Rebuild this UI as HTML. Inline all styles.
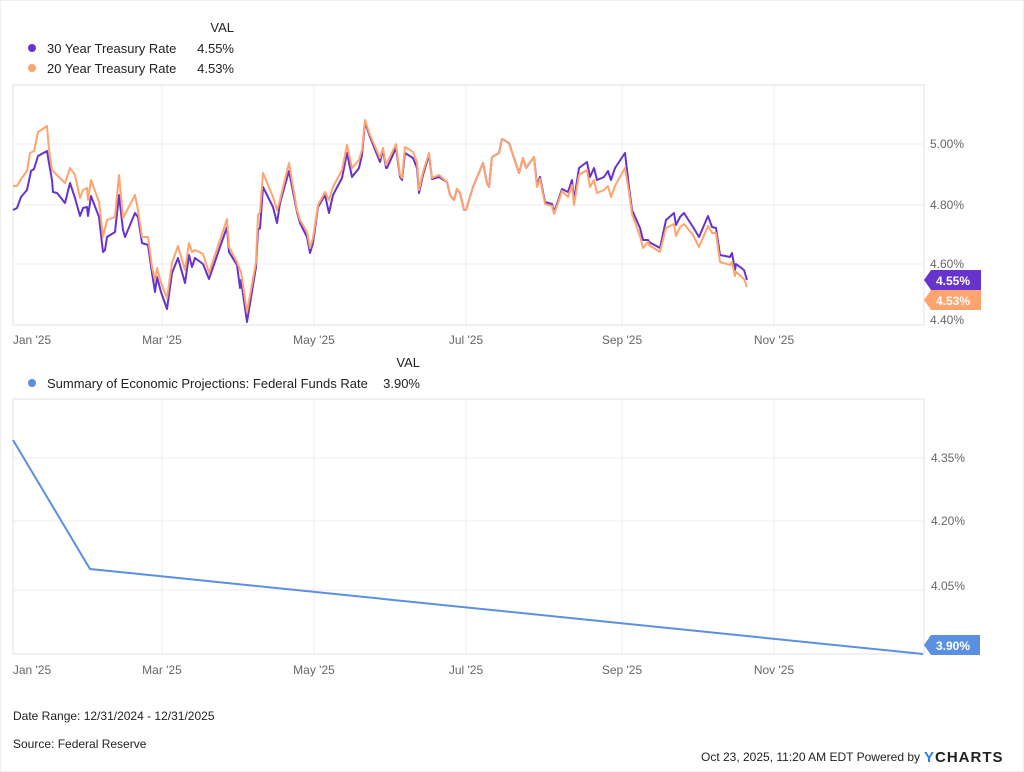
<!DOCTYPE html>
<html><head><meta charset="utf-8"><style>
html,body{margin:0;padding:0;background:#fff;}
svg{display:block;font-family:"Liberation Sans",sans-serif;}
</style></head><body>
<svg width="1024" height="772" viewBox="0 0 1024 772" xmlns="http://www.w3.org/2000/svg">
<rect x="0" y="0" width="1024" height="772" fill="#fff"/>
<rect x="0.5" y="0.5" width="1023" height="771" fill="none" stroke="#eee"/>
<!-- Legend top -->
<text x="234" y="32" font-size="13" fill="#222" text-anchor="end">VAL</text>
<circle cx="32" cy="48" r="4" fill="#6633cc"/>
<text x="47" y="53" font-size="13" fill="#222">30 Year Treasury Rate</text>
<text x="234" y="53" font-size="13" fill="#222" text-anchor="end">4.55%</text>
<circle cx="32" cy="68" r="4" fill="#ffa46e"/>
<text x="47" y="73" font-size="13" fill="#222">20 Year Treasury Rate</text>
<text x="234" y="73" font-size="13" fill="#222" text-anchor="end">4.53%</text>
<!-- Top chart grid -->
<g stroke="#ececf2" stroke-width="1">
<line x1="13" y1="144" x2="924" y2="144"/><line x1="13" y1="205" x2="924" y2="205"/><line x1="13" y1="264" x2="924" y2="264"/>
<line x1="162" y1="85" x2="162" y2="325"/><line x1="314" y1="85" x2="314" y2="325"/><line x1="466" y1="85" x2="466" y2="325"/><line x1="622" y1="85" x2="622" y2="325"/><line x1="774" y1="85" x2="774" y2="325"/>
</g>
<rect x="13" y="85" width="911" height="240" fill="none" stroke="#e2e2e8"/>
<g font-size="12" fill="#666">
<text x="930" y="148">5.00%</text><text x="930" y="209">4.80%</text><text x="930" y="268">4.60%</text><text x="930" y="324">4.40%</text>
<text x="32" y="344" text-anchor="middle">Jan '25</text><text x="162" y="344" text-anchor="middle">Mar '25</text><text x="314" y="344" text-anchor="middle">May '25</text><text x="466" y="344" text-anchor="middle">Jul '25</text><text x="622" y="344" text-anchor="middle">Sep '25</text><text x="774" y="344" text-anchor="middle">Nov '25</text>
</g>
<polyline fill="none" stroke="#6633cc" stroke-width="2" stroke-linejoin="round" points="13,210 17,208 21,197 27,190 31,171 34,169 38,156 47,151 49,163 52,180 53,192 57,193 65,203 70,183 75,198 80,216 83,208 87,207 88,216 91,196 99,217 103,252 105,250 107,237 115,232 119,195 123,230 125,237 135,213 138,217 142,243 148,245 152,273 155,292 157,277 161,292 167,309 172,273 178,258 185,283 189,255 192,267 195,258 203,264 209,279 220,247 227,227 229,252 237,265 240,288 241,280 247,322 256,267 258,230 260,228 263,187 273,207 277,223 280,203 289,171 297,212 300,223 307,237 310,253 313,243 318,207 325,195 329,213 333,195 342,178 347,153 352,177 359,168 362,155 365,122 370,137 380,162 383,150 386,168 387,168 396,148 400,177 402,180 405,153 413,158 417,168 419,193 423,175 429,155 432,179 439,177 447,182 450,195 454,200 457,189 460,193 464,210 466,210 473,187 483,163 487,183 489,187 492,157 499,153 502,139 509,143 519,173 523,158 526,168 534,157 537,185 540,177 545,202 552,204 554,212 558,201 562,189 568,192 572,180 574,200 579,168 587,162 590,177 594,168 597,180 604,177 608,171 611,180 615,168 625,153 629,187 632,210 640,228 643,240 648,240 649,242 660,248 666,220 674,213 676,225 680,217 684,213 693,227 699,237 708,216 712,227 716,228 720,255 730,257 732,253 735,270 736,264 744,270 747,280"/>
<polyline fill="none" stroke="#ffa46e" stroke-width="2" stroke-linejoin="round" points="13,186 17,186 21,179 27,171 30,153 34,151 38,132 47,126 49,150 52,170 53,171 57,175 65,183 70,168 75,175 80,198 83,190 87,188 88,200 91,180 99,202 103,237 107,220 115,217 119,175 123,218 135,195 138,210 142,237 148,237 152,267 155,280 157,268 161,283 167,298 172,263 178,246 185,270 189,243 192,252 195,250 203,254 209,273 220,240 227,219 229,247 237,262 240,270 241,272 247,312 256,262 258,215 260,212 263,173 273,197 277,210 280,200 289,163 297,210 300,220 307,232 310,248 313,238 318,205 325,192 329,200 333,187 342,170 347,145 352,168 359,160 362,150 365,120 370,135 380,158 383,148 386,165 396,144 400,175 402,178 405,147 413,152 417,162 419,190 423,172 429,153 432,178 439,175 447,182 450,195 454,200 457,189 460,193 464,210 466,210 473,187 483,163 487,183 489,187 492,157 499,153 502,139 509,143 519,173 523,158 526,168 534,157 537,187 540,179 545,204 552,206 554,214 558,203 562,191 568,197 572,185 574,205 579,175 587,170 590,187 594,180 597,193 604,190 608,186 611,197 615,186 625,168 629,192 632,214 640,236 643,248 648,242 649,245 660,252 666,228 674,224 676,236 680,227 684,224 693,235 699,247 708,226 712,233 716,233 720,262 730,265 732,262 735,276 736,272 744,279 747,287"/>
<!-- tags -->
<polygon points="924,280 931,270 981,270 981,290 931,290" fill="#6633cc"/>
<text x="936" y="285" font-size="12" font-weight="bold" fill="#fff">4.55%</text>
<polygon points="924,300 931,290 981,290 981,310 931,310" fill="#ffa46e"/>
<text x="936" y="305" font-size="12" font-weight="bold" fill="#fff">4.53%</text>
<!-- Legend bottom -->
<text x="420" y="367" font-size="13" fill="#222" text-anchor="end">VAL</text>
<circle cx="32" cy="383" r="4" fill="#5b8fdf"/>
<text x="47" y="388" font-size="13" fill="#222">Summary of Economic Projections: Federal Funds Rate</text>
<text x="420" y="388" font-size="13" fill="#222" text-anchor="end">3.90%</text>
<!-- Bottom chart -->
<g stroke="#ececf2" stroke-width="1">
<line x1="13" y1="458" x2="924" y2="458"/><line x1="13" y1="521" x2="924" y2="521"/><line x1="13" y1="590" x2="924" y2="590"/>
<line x1="162" y1="399" x2="162" y2="654"/><line x1="314" y1="399" x2="314" y2="654"/><line x1="466" y1="399" x2="466" y2="654"/><line x1="622" y1="399" x2="622" y2="654"/><line x1="774" y1="399" x2="774" y2="654"/>
</g>
<rect x="13" y="399" width="911" height="255" fill="none" stroke="#e2e2e8"/>
<g font-size="12" fill="#666">
<text x="931" y="462">4.35%</text><text x="931" y="525">4.20%</text><text x="931" y="590">4.05%</text>
<text x="32" y="674" text-anchor="middle">Jan '25</text><text x="162" y="674" text-anchor="middle">Mar '25</text><text x="314" y="674" text-anchor="middle">May '25</text><text x="466" y="674" text-anchor="middle">Jul '25</text><text x="622" y="674" text-anchor="middle">Sep '25</text><text x="774" y="674" text-anchor="middle">Nov '25</text>
</g>
<polyline fill="none" stroke="#5b8fdf" stroke-width="2" points="13,440 90,569 923,654"/>
<polygon points="924,645 931,635 980,635 980,655 931,655" fill="#5b8fdf"/>
<text x="936" y="650" font-size="12" font-weight="bold" fill="#fff">3.90%</text>
<!-- Footer -->
<text x="13" y="720" font-size="12" fill="#222">Date Range: 12/31/2024 - 12/31/2025</text>
<text x="13" y="748" font-size="12" fill="#222">Source: Federal Reserve</text>
<text x="920" y="761" font-size="12" fill="#222" text-anchor="end">Oct 23, 2025, 11:20 AM EDT Powered by</text>
<text x="924" y="762" font-size="15" font-weight="bold" fill="#222" letter-spacing="1"><tspan fill="#2e7fe0">Y</tspan>CHARTS</text>
</svg>
</body></html>
